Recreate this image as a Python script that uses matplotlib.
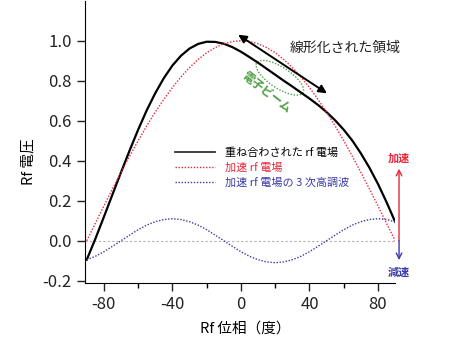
import matplotlib
matplotlib.use("Agg")
import matplotlib.pyplot as plt
from matplotlib import transforms
from matplotlib.patches import Ellipse
from matplotlib.ticker import MultipleLocator

plt.rcParams['font.family'] = ['Noto Sans CJK JP', 'DejaVu Sans']
plt.rcParams['axes.unicode_minus'] = False

# Rf phase (degrees) and voltages
phase = [-90, -85, -80, -75, -70, -65, -60, -55, -50, -45, -40, -35, -30,
         -25, -20, -15, -10, -5, 0, 5, 10, 15, 20, 25, 30, 35, 40, 45, 50,
         55, 60, 65, 70, 75, 80, 85, 90]
combined = [-0.095, 0.009, 0.119, 0.231, 0.342, 0.451, 0.555, 0.652, 0.738,
            0.813, 0.876, 0.925, 0.961, 0.984, 0.995, 0.994, 0.985, 0.968,
            0.945, 0.918, 0.890, 0.860, 0.830, 0.800, 0.771, 0.741, 0.711,
            0.679, 0.643, 0.602, 0.555, 0.501, 0.437, 0.365, 0.284, 0.193,
            0.095]
accel = [0.0, 0.087, 0.174, 0.259, 0.342, 0.423, 0.500, 0.574, 0.643, 0.707,
         0.766, 0.819, 0.866, 0.906, 0.940, 0.966, 0.985, 0.996, 1.000, 0.996,
         0.985, 0.966, 0.940, 0.906, 0.866, 0.819, 0.766, 0.707, 0.643, 0.574,
         0.500, 0.423, 0.342, 0.259, 0.174, 0.087, 0.0]
third = [-0.095, -0.078, -0.055, -0.028, 0.0, 0.028, 0.055, 0.078, 0.095,
         0.106, 0.110, 0.106, 0.095, 0.078, 0.055, 0.028, 0.0, -0.028, -0.055,
         -0.078, -0.095, -0.106, -0.110, -0.106, -0.095, -0.078, -0.055,
         -0.028, 0.0, 0.028, 0.055, 0.078, 0.095, 0.106, 0.110, 0.106, 0.095]

labels = ['重ね合わされた rf 電場', '加速 rf 電場', '加速 rf 電場の 3 次高調波']
xticks = [-80, -40, 0, 40, 80]
yticks = [-0.2, 0.0, 0.2, 0.4, 0.6, 0.8, 1.0]

red = '#e8283a'
blue = '#3a3aa8'
green = '#4f9e45'

fig = plt.figure(figsize=(4.5, 3.44), dpi=100)
ax = fig.add_axes([0.189, 0.1773, 0.689, 0.8206])

ax.axhline(0, color='#b0b0b0', lw=0.8, ls=(0, (2, 2)))
ax.plot(phase, combined, color='black', lw=1.6, label=labels[0])
ax.plot(phase, accel, color=red, lw=1.0, ls=(0, (1, 1.2)), label=labels[1])
ax.plot(phase, third, color=blue, lw=1.0, ls=(0, (1, 1.2)), label=labels[2])

ax.set_xlim(-91, 90)
ax.set_ylim(-0.2115, 1.2)
ax.set_xticks(xticks)
ax.xaxis.set_minor_locator(MultipleLocator(20))
ax.set_yticks(yticks)
ax.set_yticklabels([f'{v:.1f}' for v in yticks])
ax.tick_params(axis='both', which='major', labelsize=12, length=6,
               width=1, colors='#222222')
ax.tick_params(axis='x', which='minor', length=3.5, width=1)
for s in ['top', 'right']:
    ax.spines[s].set_visible(False)

ax.set_xlabel('Rf 位相（度）', fontsize=10.5)
ax.set_ylabel('Rf 電圧', fontsize=10.5)
ax.xaxis.set_label_coords(0.516, -0.135)
ax.yaxis.set_label_coords(-0.16, 0.43)

leg = ax.legend(loc='upper left', bbox_to_anchor=(0.389, 0.572),
                bbox_transform=fig.transFigure, frameon=False, fontsize=8,
                handlelength=3.6, handletextpad=0.9, labelspacing=0.45,
                borderpad=0, borderaxespad=0,
                labelcolor=['black', red, blue])
leg.get_lines()[0].set_color('#333333')
leg.get_lines()[0].set_linewidth(1.3)

# linearized region arrow
ax.annotate('', xy=(50.2, 0.737), xytext=(-1.6, 1.03),
            arrowprops=dict(arrowstyle='<|-|>', color='black', lw=1.4,
                            mutation_scale=12, shrinkA=0, shrinkB=0))
ax.text(60.6, 0.963, '線形化された領域', fontsize=10, ha='center',
        va='center', color='#222222')

# electron beam ellipse
trans = fig.dpi_scale_trans + transforms.ScaledTranslation(22.7, 0.815, ax.transData)
ax.add_patch(Ellipse((0, 0), 0.55, 0.21, angle=-33, transform=trans,
                     fill=False, edgecolor=green, lw=1.0, ls=(0, (1, 1.2))))
ax.text(14.5, 0.74, '電子ビーム', fontsize=8.5, color=green, rotation=-38,
        ha='center', va='center', fontweight='bold')

# accelerate / decelerate arrows
ax.annotate('', xy=(92.3, 0.36), xytext=(92.3, 0.0), annotation_clip=False,
            arrowprops=dict(arrowstyle='->', color=red, lw=1.0,
                            shrinkA=0, shrinkB=0))
ax.annotate('', xy=(92.3, -0.097), xytext=(92.3, 0.0), annotation_clip=False,
            arrowprops=dict(arrowstyle='->', color=blue, lw=1.0,
                            shrinkA=0, shrinkB=0))
ax.text(92.3, 0.41, '加速', color=red, fontsize=8, ha='center', va='center',
        fontweight='bold', clip_on=False)
ax.text(92.3, -0.158, '減速', color=blue, fontsize=8, ha='center',
        va='center', fontweight='bold', clip_on=False)

fig.savefig('out.png', dpi=100)
